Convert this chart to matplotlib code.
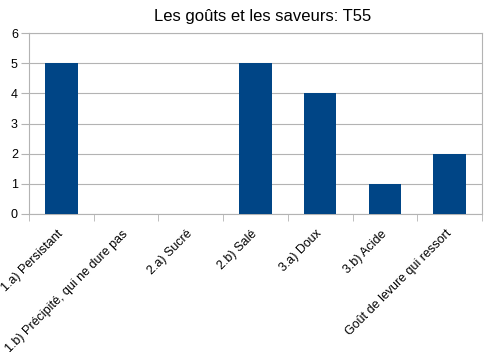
import matplotlib
matplotlib.use("Agg")
import matplotlib.pyplot as plt
import numpy as np

categories = ["1.a) Persistant", "1.b) Précipité, qui ne dure pas", "2.a) Sucré",
              "2.b) Salé", "3.a) Doux", "3.b) Acide", "Goût de levure qui ressort"]
values = [5, 0, 0, 5, 4, 1, 2]
yticks = [0, 1, 2, 3, 4, 5, 6]
title = "Les goûts et les saveurs: T55"

plt.rcParams['font.family'] = ['Liberation Sans', 'DejaVu Sans']

fig = plt.figure(figsize=(4.95, 3.52), dpi=100)
ax = fig.add_axes([29/495, 1-214/352, (482-29)/495, (214-33)/352])

x = np.arange(len(categories))
ax.bar(x, values, width=0.5, color="#004586", zorder=3)

ax.set_xlim(-0.5, len(categories)-0.5)
ax.set_ylim(0, 6)
ax.set_yticks(yticks)
ax.set_yticklabels([str(v) for v in yticks], fontsize=9)
ax.yaxis.grid(True, color="#b3b3b3", linewidth=0.8, zorder=0)

ax.set_xticks(x)
ax.set_xticklabels(categories, rotation=45, ha='right', va='center',
                   rotation_mode='anchor', fontsize=9)
ax.tick_params(axis='x', which='major', length=0, pad=13)
ax.set_xticks(np.arange(-0.5, len(categories), 1), minor=True)
ax.tick_params(axis='x', which='minor', length=5, color="#b3b3b3")
ax.tick_params(axis='y', length=6, color="#b3b3b3", pad=2)

for s in ax.spines.values():
    s.set_color("#b3b3b3")
    s.set_linewidth(0.8)

fig.text(263/495, 1-16/352, title, ha='center', va='center', fontsize=12)

fig.savefig("out.png", dpi=100)
